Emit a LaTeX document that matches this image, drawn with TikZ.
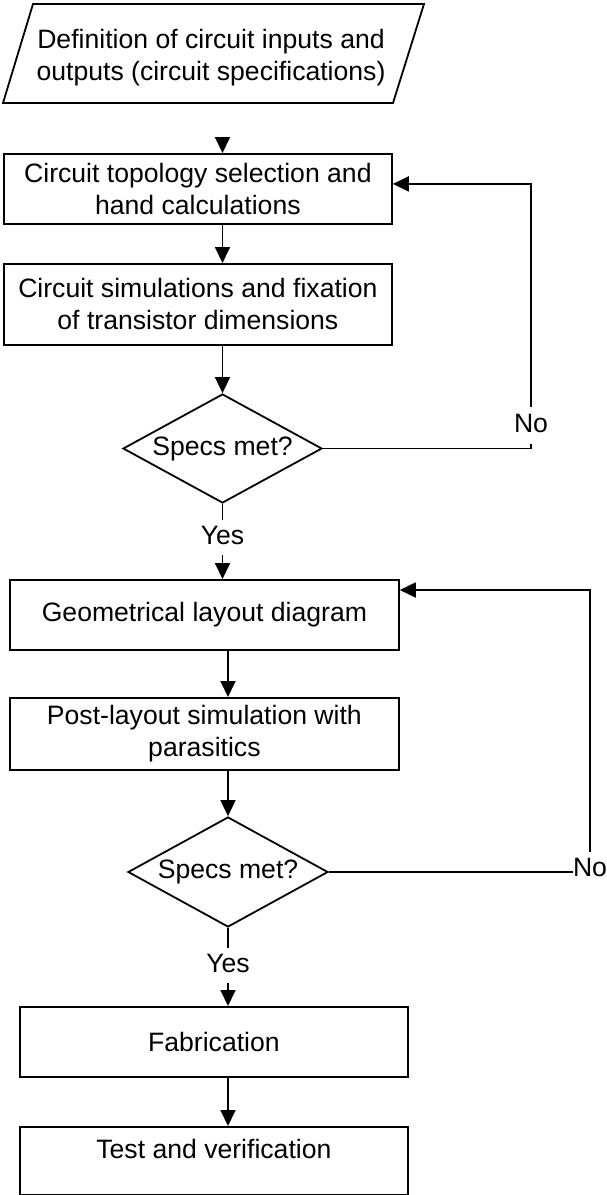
\documentclass[tikz,border=0pt]{standalone}
\usepackage{fontspec}
\setmainfont{Liberation Sans}
\usetikzlibrary{shapes.geometric,arrows.meta,calc}
\tikzset{
  ln/.style={line width=1.8pt},
  box/.style={draw, line width=1.8pt, inner sep=0pt, align=center, anchor=north west},
  dec/.style={diamond, draw, line width=1.8pt, inner sep=0pt, aspect=1.83},
  lbl/.style={inner xsep=1pt, inner ysep=5pt, text height=19pt, text depth=6pt},
  arr/.style={line width=1.8pt, -{Triangle[length=16pt,width=15pt]}},
}
\begin{document}
\begin{tikzpicture}[x=1pt,y=-1pt, font=\fontsize{26.6pt}{32pt}\selectfont]
\useasboundingbox (0,0) rectangle (606,1195);
\fill[white] (0,0) rectangle (606,1195);
% input parallelogram
\draw[ln] (33,4) -- (424,4) -- (393,103) -- (3,103) -- cycle;
\node[align=center] (def) at (211,58) {Definition of circuit inputs and\\outputs (circuit specifications)};
% nodes
\node[box, minimum width=388pt, minimum height=70pt] (b1) at (3,153) {Circuit topology selection and\\hand calculations};
\node[box, minimum width=388pt, minimum height=81pt] (b2) at (3,263) {Circuit simulations and fixation\\of transistor dimensions};
\node[dec, minimum width=199pt, minimum height=109pt] (d1) at (222.5,448.5) {Specs met?};
\node[lbl] (yes1) at (222.5,537.5) {Yes};
\node[lbl, inner ysep=6pt] (no1) at (531,425.5) {No};
\node[box, minimum width=389pt, minimum height=70pt] (b3) at (9,579) {Geometrical layout diagram};
\node[box, minimum width=389pt, minimum height=72pt] (b4) at (9,697) {Post-layout simulation with\\parasitics};
\node[dec, minimum width=200pt, minimum height=110pt] (d2) at (228,872) {Specs met?};
\node[lbl] (yes2) at (228,965.5) {Yes};
\node[lbl, inner xsep=0pt] (no2) at (590,870) {No};
\node[box, minimum width=388pt, minimum height=70pt] (b5) at (19,1006) {Fabrication};
\node[box, minimum width=388pt, minimum height=68pt, label={[yshift=12pt]center:Test and verification}] (b6) at (19,1126) {};
% connectors
\coordinate (a0) at (222.5,137);
\draw[arr] (a0) -- (a0 |- b1.north);
\draw[arr] (d1.north |- b1.south) -- (d1.north |- b2.north);
\draw[arr] (d1.north |- b2.south) -- (d1.north);
\draw[ln] (d1.south) -- (yes1);
\draw[arr] (yes1) -- (yes1 |- b3.north);
\draw[ln] (d1.east) -| (no1);
\draw[arr] (no1) |- ([yshift=5pt]b1.east);
\draw[arr] (d2.north |- b3.south) -- (d2.north |- b4.north);
\draw[arr] (d2.north |- b4.south) -- (d2.north);
\draw[ln] (d2.south) -- (yes2);
\draw[arr] (yes2) -- (yes2 |- b5.north);
\draw[ln] (d2.east) -- (d2.east -| no2.west);
\draw[arr] (no2) |- ([yshift=-11pt]b3.north east);
\draw[arr] (d2.north |- b5.south) -- (d2.north |- b6.north);
\end{tikzpicture}
\end{document}
